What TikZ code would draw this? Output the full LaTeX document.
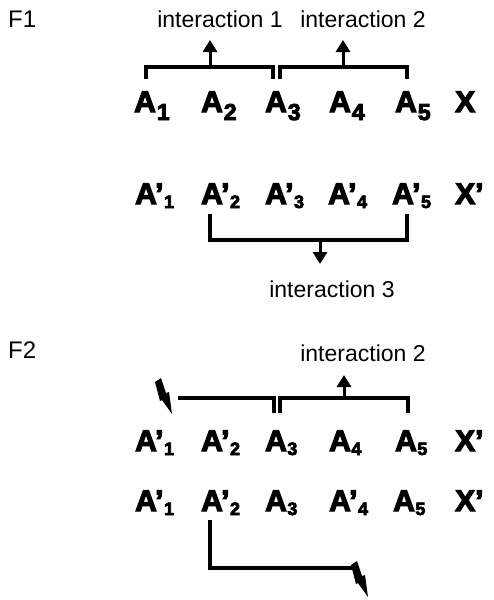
\documentclass[tikz,border=0pt]{standalone}
\usepackage{fontspec}
\setmainfont{Liberation Sans}
\newfontfamily\heavy{Liberation Sans Bold}[FakeBold=4]
\usetikzlibrary{arrows.meta}
\newcommand{\bsub}[1]{\kern1pt{\fontsize{23}{23}\selectfont\raisebox{-8pt}{#1}}}
\newcommand{\ssub}[1]{\kern0.5pt{\fontsize{18}{18}\selectfont\raisebox{-4pt}{#1}}}
\newcommand{\pr}{’}
\tikzset{
  lab/.style={inner sep=0pt, anchor=base west, font=\heavy\fontsize{30}{30}\selectfont},
  txt/.style={inner sep=0pt, anchor=base, font=\fontsize{23}{23}\selectfont},
  fig/.style={inner sep=0pt, anchor=base west, font=\fontsize{24}{24}\selectfont},
  brk/.style={line width=3.4pt, line cap=butt},
  arr/.style={line width=3pt, -{Triangle[width=14pt,length=12pt]}}
}
\newcommand{\boltat}[2]{\fill[shift={(#1,#2)}] (0,4) -- (6,0) -- (11,15) -- (14,14) -- (17,36) -- (7,22) -- (5,23) -- cycle;}
\begin{document}
\begin{tikzpicture}[x=1pt,y=-1pt]
\useasboundingbox[fill=white] (0,0) rectangle (493,600);
% F1
\node[fig] (f1) at (8,27) {F1};
\node[txt] (i1) at (220,27) {interaction 1};
\node[txt] (i2) at (363,27) {interaction 2};
% row 1
\node[lab] (r1a1) at (134,112) {A\bsub{1}};
\node[lab] (r1a2) at (201,112) {A\bsub{2}};
\node[lab] (r1a3) at (265,112) {A\bsub{3}};
\node[lab] (r1a4) at (329,112) {A\bsub{4}};
\node[lab] (r1a5) at (395,112) {A\bsub{5}};
\node[lab] (r1x) at (455,112) {X};
% row 2
\node[lab] (r2a1) at (135,204) {A\pr\ssub{1}};
\node[lab] (r2a2) at (201,204) {A\pr\ssub{2}};
\node[lab] (r2a3) at (265,204) {A\pr\ssub{3}};
\node[lab] (r2a4) at (328,204) {A\pr\ssub{4}};
\node[lab] (r2a5) at (392,204) {A\pr\ssub{5}};
\node[lab] (r2x) at (455,204) {X\pr};
\node[txt] (i3) at (332,297) {interaction 3};
% bracket coordinates row 1
\coordinate (b1a) at (146,79);
\coordinate (b1b) at (146,67);
\coordinate (b1c) at (273,67);
\coordinate (b1d) at (273,79);
\coordinate (b1m) at (210,67);
\coordinate (b1t) at (210,40);
\coordinate (b2a) at (280,79);
\coordinate (b2b) at (280,67);
\coordinate (b2c) at (407,67);
\coordinate (b2d) at (407,79);
\coordinate (b2m) at (343,67);
\coordinate (b2t) at (343,40);
\draw[brk] (b1a) -- (b1b) -- (b1c) -- (b1d);
\draw[brk] (b2a) -- (b2b) -- (b2c) -- (b2d);
\draw[arr] (b1m) -- (b1t);
\draw[arr] (b2m) -- (b2t);
% bracket row 2
\coordinate (b3a) at (210,214);
\coordinate (b3b) at (210,240);
\coordinate (b3c) at (407,240);
\coordinate (b3d) at (407,214);
\coordinate (b3m) at (320,240);
\coordinate (b3t) at (320,264);
\draw[brk] (b3a) -- (b3b) -- (b3c) -- (b3d);
\draw[arr] (b3m) -- (b3t);
% F2
\node[fig] (f2) at (8,358) {F2};
\node[txt] (i4) at (363,361) {interaction 2};
% row 3
\node[lab] (r3a1) at (135,451) {A\pr\ssub{1}};
\node[lab] (r3a2) at (201,451) {A\pr\ssub{2}};
\node[lab] (r3a3) at (265,451) {A\ssub{3}};
\node[lab] (r3a4) at (329,451) {A\ssub{4}};
\node[lab] (r3a5) at (395,451) {A\ssub{5}};
\node[lab] (r3x) at (455,451) {X\pr};
\coordinate (b4a) at (178,398);
\coordinate (b4b) at (274,398);
\coordinate (b4c) at (274,413);
\coordinate (b5a) at (280,413);
\coordinate (b5b) at (280,398);
\coordinate (b5c) at (408,398);
\coordinate (b5d) at (408,413);
\coordinate (b5m) at (344,398);
\coordinate (b5t) at (344,375);
\draw[brk] (b4a) -- (b4b) -- (b4c);
\draw[brk] (b5a) -- (b5b) -- (b5c) -- (b5d);
\draw[arr] (b5m) -- (b5t);
\boltat{155}{378}
% row 4
\node[lab] (r4a1) at (135,511) {A\pr\ssub{1}};
\node[lab] (r4a2) at (201,511) {A\pr\ssub{2}};
\node[lab] (r4a3) at (265,511) {A\ssub{3}};
\node[lab] (r4a4) at (329,511) {A\pr\ssub{4}};
\node[lab] (r4a5) at (393,511) {A\ssub{5}};
\node[lab] (r4x) at (455,511) {X\pr};
\coordinate (b6a) at (210,520);
\coordinate (b6b) at (210,568);
\coordinate (b6c) at (354,568);
\draw[brk] (b6a) -- (b6b) -- (b6c);
\boltat{351}{561}
\end{tikzpicture}
\end{document}
